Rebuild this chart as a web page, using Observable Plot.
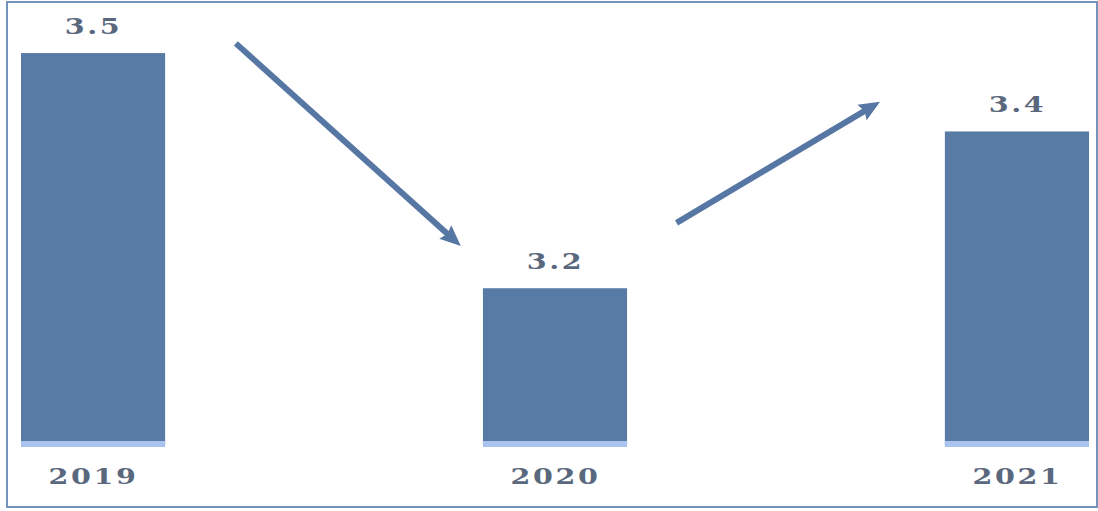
<!DOCTYPE html>
<html>
<head>
<meta charset="utf-8">
<script src="https://cdn.jsdelivr.net/npm/d3@7"></script>
<script src="https://cdn.jsdelivr.net/npm/@observablehq/plot@0.6"></script>
<style>
  html, body { margin: 0; padding: 0; background: #fff; }
  #wrap { position: relative; width: 1098px; height: 511px; }
  #frame { position: absolute; left: 6px; top: 1px; width: 1092px; height: 507px; border: 2px solid #7393bd; box-sizing: border-box; pointer-events: none; }
</style>
</head>
<body>
<div id="wrap"><div id="frame"></div></div>
<script>
const years = [2019, 2020, 2021];
const values = [3.5, 3.2, 3.4];
const valueLabels = ["3.5", "3.2", "3.4"];
// trend arrows, in data coordinates (year, value)
const arrowX1 = [2019.308, 2020.262];
const arrowY1 = [3.513, 3.284];
const arrowX2 = [2019.779, 2020.684];
const arrowY2 = [3.263, 3.432];

const bars = years.map((y, i) => ({year: y, value: values[i], label: valueLabels[i]}));
const arrows = arrowX1.map((x, i) => ({x1: x, y1: arrowY1[i], x2: arrowX2[i], y2: arrowY2[i]}));

const half = 0.156;
const base = 3.0;
const textColor = "#5a687e";
const arrowColor = "#5676a3";
const font = "'DejaVu Serif', serif";

const plot = Plot.plot({
  width: 1098,
  height: 511,
  marginLeft: 21,
  marginRight: 9,
  marginTop: 0,
  marginBottom: 66,
  x: {type: "linear", domain: [2019 - half, 2021 + half], axis: null},
  y: {domain: [base, 3.5677], axis: null},
  marks: [
    Plot.rectY(bars, {x1: d => d.year - half, x2: d => d.year + half, y1: base, y2: "value", fill: "#587ba6"}),
    Plot.rectY(bars, {x1: d => d.year - half, x2: d => d.year + half, y1: base, y2: base, insetTop: -4, insetBottom: -2, fill: "#a9c2ee"}),
    Plot.text(bars, {x: "year", y: "value", text: "label", dy: -27, fontSize: 22, fontWeight: "bold", fill: textColor, fontFamily: font, className: "vlab"}),
    Plot.text(bars, {x: "year", y: base, text: d => String(d.year), dy: 31, fontSize: 22, fontWeight: "bold", fill: textColor, fontFamily: font, className: "ylab"}),
    Plot.link(arrows, {x1: "x1", y1: "y1", x2: "x2", y2: "y2", stroke: arrowColor, strokeWidth: 6, className: "trend"})
  ]
});
plot.style.fontFamily = font;
document.getElementById("wrap").insertBefore(plot, document.getElementById("frame"));

// stretched serif labels
plot.querySelectorAll("text").forEach(t => {
  const x = t.getAttribute("x"), y = t.getAttribute("y");
  if (x != null && y != null) {
    t.removeAttribute("x"); t.removeAttribute("y");
    t.setAttribute("transform", `translate(${x},${y}) scale(1.3,1)`);
  } else {
    t.setAttribute("transform", (t.getAttribute("transform") || "") + " scale(1.3,1)");
  }
  t.setAttribute("letter-spacing", "2");
});

// filled arrowheads
const ns = "http://www.w3.org/2000/svg";
const defs = document.createElementNS(ns, "defs");
const marker = document.createElementNS(ns, "marker");
marker.setAttribute("id", "trendhead");
marker.setAttribute("markerUnits", "userSpaceOnUse");
marker.setAttribute("markerWidth", "40");
marker.setAttribute("markerHeight", "40");
marker.setAttribute("viewBox", "-20 -20 40 40");
marker.setAttribute("orient", "auto");
marker.setAttribute("overflow", "visible");
const head = document.createElementNS(ns, "path");
head.setAttribute("d", "M-11,-9L10,0L-11,9L-8,0Z");
head.setAttribute("fill", arrowColor);
marker.appendChild(head);
defs.appendChild(marker);
plot.insertBefore(defs, plot.firstChild);
plot.querySelectorAll(".trend path, g.trend path, [class*=trend] path").forEach(p => p.setAttribute("marker-end", "url(#trendhead)"));
</script>
</body>
</html>
